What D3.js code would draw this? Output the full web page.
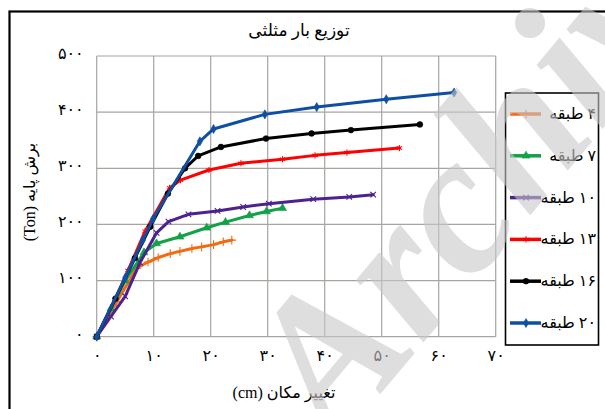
<!DOCTYPE html>
<html><head><meta charset="utf-8">
<script src="https://cdn.jsdelivr.net/npm/d3@7"></script>
<style>html,body{margin:0;padding:0;background:#fff;overflow:hidden}</style>
</head><body><svg id="c" width="605" height="409"></svg>
<script>
// ---- data ----
const xTicks = [0,10,20,30,40,50,60,70];
const xTickLabels = ["۰","۱۰","۲۰","۳۰","۴۰","۵۰","۶۰","۷۰"];
const yTicks = [0,100,200,300,400,500];
const yTickLabels = ["۰","۱۰۰","۲۰۰","۳۰۰","۴۰۰","۵۰۰"];
const seriesNames = ["۴ طبقه","۷ طبقه","۱۰ طبقه","۱۳ طبقه","۱۶ طبقه","۲۰ طبقه"];
const title = "توزیع بار مثلثی";
const xTitle = "تغییر مکان (cm)";
const yTitle = "برش پایه (Ton)";
const watermark = "Archive";

const disp4  = [0,3.5,7,9,10.8,12.9,14.6,16.7,18.4,20.5,22.2,23.7];
const shear4 = [0,62,122,133,141,148,152,157,160,164,169,172];
const disp7  = [0,2.5,5,8.3,10.5,14.6,19.3,22.6,26.8,29.8,32.6];
const shear7 = [0,50,100,150,166,178,194,204,216,223,229];
const disp10  = [0,2.5,5,7.6,10.5,12.6,16.1,21.2,25.7,30.2,38,44.3,48.5];
const shear10 = [0,36,72,132,185,205,218,224,231,237,245,249,253];
const disp13  = [0,3.2,5.5,8.5,12.8,14.7,19.7,25.3,32.6,38.3,43.9,53.1];
const shear13 = [0,66,118,188,265,279,297,309,316,323,328,336];
const disp16  = [0,3.3,6.7,9.4,12.5,15.5,17.8,21.8,29.7,37.7,44.6,56.7];
const shear16 = [0,68,140,196,255,300,322,338,353,362,368,378];
const disp20  = [0,5,8.1,9.9,18.1,20.5,29.5,38.6,50.8,62.7];
const shear20 = [0,105,172,210,348,370,396,409,423,435];

const colors = ["#F36A10","#12A146","#4E2191","#FF0000","#000000","#0F4FA3"];
const symbolsUsed = ["plus","triangle","x","asterisk","circle","diamond"];

// ---- setup ----
const svg = d3.select("#c");
const serif = "'Liberation Serif','DejaVu Sans',serif";
const x = d3.scaleLinear().domain([0,70]).range([96.7,495.7]);
const y = d3.scaleLinear().domain([0,500]).range([336.7,56]);

const series = [
  {x:disp4,y:shear4},{x:disp7,y:shear7},{x:disp10,y:shear10},
  {x:disp13,y:shear13},{x:disp16,y:shear16},{x:disp20,y:shear20}
].map((s,i)=>({name:seriesNames[i],color:colors[i],sym:symbolsUsed[i],
  pts:s.x.map((v,j)=>[v,s.y[j]])}));

// outer frame
svg.append("rect").attr("x",9.5).attr("y",11.5).attr("width",640).attr("height",450)
  .attr("fill","#fff").attr("stroke","#000").attr("stroke-width",2.2);

// grid
const g = svg.append("g");
g.selectAll("line.v").data(xTicks).join("line")
  .attr("x1",d=>x(d)).attr("x2",d=>x(d)).attr("y1",y(0)).attr("y2",y(500))
  .attr("stroke","#a8a4a0").attr("stroke-width",1.2);
g.selectAll("line.h").data(yTicks).join("line")
  .attr("y1",d=>y(d)).attr("y2",d=>y(d)).attr("x1",x(0)).attr("x2",x(70))
  .attr("stroke","#a8a4a0").attr("stroke-width",1.2);

// axes (labels only)
const xAxis = d3.axisBottom(x).tickValues(xTicks).tickSize(0).tickPadding(13)
  .tickFormat((d,i)=>xTickLabels[i]);
const yAxis = d3.axisLeft(y).tickValues(yTicks).tickSize(0).tickPadding(13)
  .tickFormat((d,i)=>yTickLabels[i]);
const gx = svg.append("g").attr("transform",`translate(0,${y(0)})`).call(xAxis);
const gy = svg.append("g").attr("transform",`translate(${x(0)},0)`).call(yAxis);
[gx,gy].forEach(a=>{a.select(".domain").remove();
  a.selectAll("text").attr("font-family",serif).attr("font-size",16).attr("fill","#000");});
gy.selectAll("text").attr("dy","0.15em");

// titles
svg.append("text").attr("x",299).attr("y",36).attr("text-anchor","middle")
  .attr("font-family",serif).attr("font-size",17).text(title);
svg.append("text").attr("x",284).attr("y",398).attr("text-anchor","middle")
  .attr("direction","rtl").attr("font-family",serif).attr("font-size",16).text(xTitle);
svg.append("text").attr("transform","translate(35,192) rotate(-90)").attr("text-anchor","middle")
  .attr("direction","rtl").attr("font-family",serif).attr("font-size",16).text(yTitle);

// symbols
function symType(s){
  return {plus:d3.symbolPlus, triangle:d3.symbolTriangle, x:(d3.symbolTimes||d3.symbolX||d3.symbolCross),
    asterisk:(d3.symbolAsterisk||d3.symbolStar), circle:d3.symbolCircle, diamond:d3.symbolDiamond}[s];
}
function drawMarker(sel, s, cx, cy){
  const size = {plus:26,triangle:28,x:22,asterisk:26,circle:26,diamond:24}[s.sym];
  const stroked = (s.sym==="plus"||s.sym==="x"||s.sym==="asterisk");
  const sym = d3.symbol().type(symType(s.sym)).size(size);
  sel.append("path").attr("d",sym()).attr("transform",`translate(${cx},${cy})`)
    .attr("fill",stroked?"none":s.color).attr("stroke",s.color)
    .attr("stroke-width",stroked?1.1:0.6);
}

// lines
const line = d3.line().x(d=>x(d[0])).y(d=>y(d[1]));
series.forEach(s=>{
  const gs = svg.append("g");
  gs.append("path").attr("d",line(s.pts)).attr("fill","none").attr("stroke",s.color)
    .attr("stroke-width",3).attr("stroke-linejoin","round").attr("stroke-linecap","round");
  s.pts.forEach(p=>drawMarker(gs,s,x(p[0]),y(p[1])));
});

// legend
svg.append("rect").attr("x",505.5).attr("y",93).attr("width",93).attr("height",252)
  .attr("fill","#fff").attr("stroke","#000").attr("stroke-width",1.6);
const ly = d3.scalePoint().domain(seriesNames).range([114,323]);
series.forEach(s=>{
  const yy = ly(s.name);
  svg.append("line").attr("x1",510).attr("x2",541).attr("y1",yy).attr("y2",yy)
    .attr("stroke",s.color).attr("stroke-width",3.5);
  drawMarker(svg,s,526,yy);
  svg.append("text").attr("x",596).attr("y",yy+5).attr("text-anchor","end")
    .attr("font-family",serif).attr("font-size",16).text("\u200F"+s.name);
});

// watermark
svg.append("text").attr("transform","translate(335,448) rotate(-50)")
  .attr("font-family","'Liberation Serif',serif").attr("font-weight","bold").attr("font-style","italic")
  .attr("font-size",200).attr("fill","#c8c8c8").attr("fill-opacity",0.6).text(watermark);
</script></body></html>
